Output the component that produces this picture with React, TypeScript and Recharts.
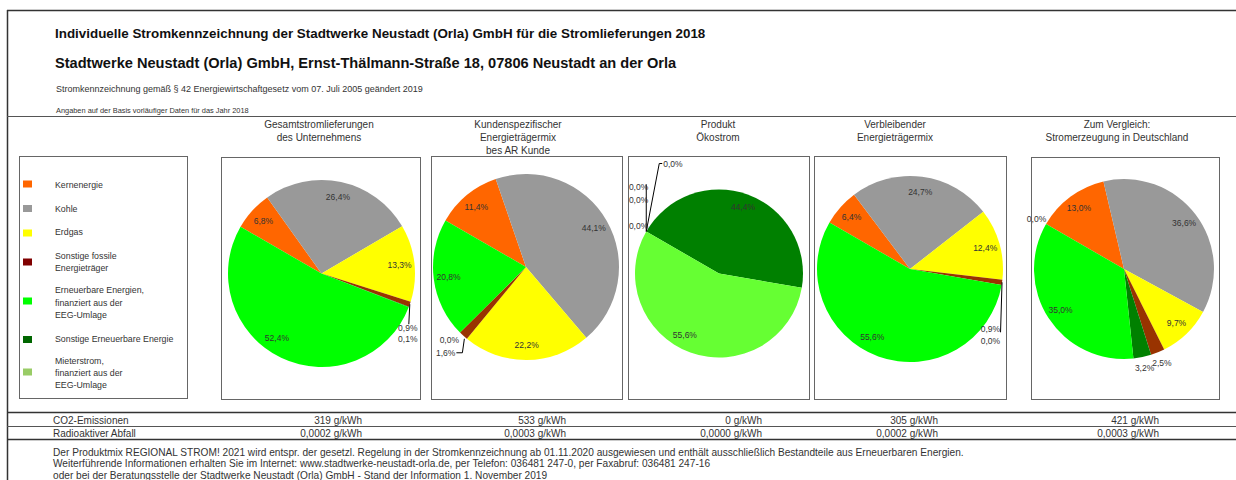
import React from 'react';
import { PieChart, Pie, Cell } from 'recharts';

// ---------- DATA ----------
const categories = [
  'Kernenergie',
  'Kohle',
  'Erdgas',
  'Sonstige fossile Energieträger',
  'Sonstige Erneuerbare Energie',
  'Erneuerbare Energien, finanziert aus der EEG-Umlage',
  'Mieterstrom, finanziert aus der EEG-Umlage',
];

const gesamtWerte: (number | null)[] = [6.8, 26.4, 13.3, 0.9, 0.1, 52.4, null];
const kundenWerte: (number | null)[] = [11.4, 44.1, 22.2, 1.6, 0.0, 20.8, null];
const oekoWerte: (number | null)[] = [0.0, 0.0, 0.0, 0.0, 44.4, 55.6, null];
const verbleibendWerte: (number | null)[] = [6.4, 24.7, 12.4, 0.9, 0.0, 55.6, null];
const deutschlandWerte: (number | null)[] = [13.0, 36.6, 9.7, 2.5, 3.2, 35.0, 0.0];

const pieTitles = [
  ['Gesamtstromlieferungen', 'des Unternehmens'],
  ['Kundenspezifischer', 'Energieträgermix', 'bes AR Kunde'],
  ['Produkt', 'Ökostrom'],
  ['Verbleibender', 'Energieträgermix'],
  ['Zum Vergleich:', 'Stromerzeugung in Deutschland'],
];

const legendOrder = [0, 1, 2, 3, 5, 4, 6];
const legendTexts = [
  ['Kernenergie'],
  ['Kohle'],
  ['Erdgas'],
  ['Sonstige fossile', 'Energieträger'],
  ['Erneuerbare Energien,', 'finanziert aus der', 'EEG-Umlage'],
  ['Sonstige Erneuerbare Energie'],
  ['Mieterstrom,', 'finanziert aus der', 'EEG-Umlage'],
];

const co2Werte = ['319 g/kWh', '533 g/kWh', '0 g/kWh', '305 g/kWh', '421 g/kWh'];
const abfallWerte = ['0,0002 g/kWh', '0,0003 g/kWh', '0,0000 g/kWh', '0,0002 g/kWh', '0,0003 g/kWh'];

const titel1 = 'Individuelle Stromkennzeichnung der Stadtwerke Neustadt (Orla) GmbH für die Stromlieferungen 2018';
const titel2 = 'Stadtwerke Neustadt (Orla) GmbH, Ernst-Thälmann-Straße 18, 07806 Neustadt an der Orla';
const titel3 = 'Stromkennzeichnung gemäß § 42 Energiewirtschaftgesetz vom 07. Juli 2005 geändert 2019';
const titel4 = 'Angaben auf der Basis vorläufiger Daten für das Jahr 2018';
const fussText = [
  'Der Produktmix REGIONAL STROM! 2021 wird entspr. der gesetzl. Regelung in der Stromkennzeichnung ab 01.11.2020 ausgewiesen und enthält ausschließlich Bestandteile aus Erneuerbaren Energien.',
  'Weiterführende Informationen erhalten Sie im Internet: www.stadtwerke-neustadt-orla.de, per Telefon: 036481 247-0, per Faxabruf: 036481 247-16',
  'oder bei der Beratungsstelle der Stadtwerke Neustadt (Orla) GmbH - Stand der Information 1. November 2019',
];

// ---------- STYLE / LAYOUT ----------
const colors = ['#FF6600', '#999999', '#FFFF00', '#993300', '#008000', '#00FF00', '#99CC66'];
const legendColors = ['#FF6600', '#999999', '#FFFF00', '#800000', '#006600', '#00FF00', '#99CC66'];
const FONT = '"Liberation Sans", Arial, sans-serif';
const TXT = '#333333';

type Callout = { lines: number[][][]; labels: [number, number, string][] };
type Layout = {
  cx: number; cy: number; r: number; box: number[]; titleX: number;
  small: 'callout' | 'outside'; callout?: Callout; override?: Record<number, string>;
};

const pieLayouts: Layout[] = [
  {
    cx: 321.5, cy: 273.5, r: 93.5, box: [221, 157, 420, 399], titleX: 319, small: 'callout',
    callout: { lines: [[[0, 0], [-1, 20]]], labels: [[-2, 24, 'middle'], [-1, 32, 'middle']] },
  },
  {
    cx: 526, cy: 267, r: 93, box: [431, 156, 622, 399], titleX: 518, small: 'callout',
    callout: { lines: [[[1, 3], [-1, 17], [-7, 17]]], labels: [[-8, 17, 'end'], [-1, 7, 'end']] },
  },
  {
    cx: 719, cy: 273.5, r: 84, box: [628, 156, 809, 399], titleX: 718, small: 'callout',
    override: { 5: '#66FF33' },
    callout: {
      lines: [[[0, 0], [13, -68], [16, -68]], [[0, 0], [0, -47]]],
      labels: [[17, -68, 'start'], [2, -44.5, 'end'], [2, -31.5, 'end'], [2, -6, 'end']],
    },
  },
  {
    cx: 910, cy: 269, r: 93, box: [814, 156, 1006, 399], titleX: 895, small: 'callout',
    callout: { lines: [[[0, 0], [-1.5, 50]]], labels: [[-2, 47, 'end'], [-1.6, 56, 'end']] },
  },
  { cx: 1124, cy: 269, r: 90, box: [1031, 157, 1219, 399], titleX: 1117, small: 'outside' },
];

const pieValues = [gesamtWerte, kundenWerte, oekoWerte, verbleibendWerte, deutschlandWerte];

const legendRows = [
  { sq: 184, ys: [185] },
  { sq: 208.5, ys: [209] },
  { sq: 233, ys: [232] },
  { sq: 262, ys: [256, 268] },
  { sq: 301, ys: [290, 302.5, 314.5] },
  { sq: 339.5, ys: [339] },
  { sq: 372, ys: [361, 373, 385] },
];

const valueRight = [362, 566, 762, 938, 1159];

const RAD = Math.PI / 180;
const fmt = (v: number) => v.toFixed(1).replace('.', ',') + '%';

function buildData(vals: (number | null)[], lay: Layout) {
  let k = 0;
  const out: any[] = [];
  vals.forEach((v, i) => {
    if (v === null) return;
    const small = v < 5;
    out.push({
      name: categories[i],
      value: v,
      cat: i,
      color: (lay.override && lay.override[i]) || colors[i],
      mode: small ? lay.small : 'inside',
      k: small ? k++ : -1,
    });
  });
  return out;
}

function makeLabel(lay: Layout) {
  return (props: any) => {
    const p = props.payload && props.payload.mode ? props.payload : props;
    const { cx, cy, midAngle, outerRadius, value, percent } = props;
    const common = { fontSize: 8.5, fill: TXT, fontFamily: FONT } as any;
    const txt = fmt(value);
    if (p.mode === 'inside') {
      const ang = (percent > 0.5 ? midAngle - 9 : midAngle) * RAD;
      const rr = outerRadius * 0.84;
      return (
        <text x={cx + rr * Math.cos(-ang)} y={cy + rr * Math.sin(-ang)} textAnchor="middle" dominantBaseline="central" {...common}>
          {txt}
        </text>
      );
    }
    const cos = Math.cos(-midAngle * RAD);
    const sin = Math.sin(-midAngle * RAD);
    if (p.mode === 'outside') {
      const rr = outerRadius + 11;
      return (
        <text x={cx + rr * cos} y={cy + rr * sin} textAnchor="middle" dominantBaseline="central" {...common}>
          {txt}
        </text>
      );
    }
    const ox = cx + outerRadius * cos;
    const oy = cy + outerRadius * sin;
    const c = lay.callout!;
    const lab = c.labels[p.k] || [0, 0, 'middle'];
    return (
      <g>
        {p.k === 0 &&
          c.lines.map((pts, j) => (
            <polyline
              key={j}
              points={pts.map((q) => `${ox + q[0]},${oy + q[1]}`).join(' ')}
              fill="none"
              stroke="#000"
              strokeWidth={1}
            />
          ))}
        <text x={ox + lab[0]} y={oy + lab[1]} textAnchor={lab[2] as any} dominantBaseline="central" {...common}>
          {txt}
        </text>
      </g>
    );
  };
}

export default function App() {
  const W = 1236;
  const H = 480;
  return (
    <div style={{ position: 'absolute', left: 0, top: 0, width: W, height: H, overflow: 'hidden', background: '#fff' }}>
      <svg width={W} height={H} style={{ position: 'absolute', left: 0, top: 0 }} fontFamily={FONT}>
        {/* frame */}
        <line x1={7.5} y1={10} x2={7.5} y2={H} stroke="#333" strokeWidth={1.5} />
        <line x1={7} y1={10.5} x2={W} y2={10.5} stroke="#333" strokeWidth={1.5} />
        <line x1={7} y1={116.5} x2={W} y2={116.5} stroke="#555" strokeWidth={1} />
        {/* header */}
        <text x={55} y={33} fontSize={13.4} fontWeight="bold" dominantBaseline="central" fill="#111">{titel1}</text>
        <text x={55} y={63} fontSize={14.6} fontWeight="bold" dominantBaseline="central" fill="#111">{titel2}</text>
        <text x={56} y={89} fontSize={9} dominantBaseline="central" fill={TXT}>{titel3}</text>
        <text x={56} y={110.5} fontSize={7.4} dominantBaseline="central" fill={TXT}>{titel4}</text>
        {/* legend */}
        <rect x={19.5} y={156.5} width={168} height={242} fill="none" stroke="#666" />
        {legendOrder.map((ci, row) => (
          <g key={ci}>
            <rect x={23} y={legendRows[row].sq - 3.5} width={9} height={7} fill={legendColors[ci]} />
            {legendTexts[row].map((t, j) => (
              <text key={j} x={55} y={legendRows[row].ys[j]} fontSize={8.8} dominantBaseline="central" fill={TXT}>{t}</text>
            ))}
          </g>
        ))}
        {/* pie titles and boxes */}
        {pieLayouts.map((l, i) => (
          <g key={i}>
            <rect x={l.box[0] + 0.5} y={l.box[1] + 0.5} width={l.box[2] - l.box[0]} height={l.box[3] - l.box[1]} fill="none" stroke="#666" />
            {pieTitles[i].map((t, j) => (
              <text key={j} x={l.titleX} y={124 + j * 13} fontSize={10} textAnchor="middle" dominantBaseline="central" fill={TXT}>{t}</text>
            ))}
          </g>
        ))}
        {/* table */}
        <line x1={7} y1={412.5} x2={W} y2={412.5} stroke="#333" strokeWidth={1.3} />
        <line x1={7} y1={426.5} x2={W} y2={426.5} stroke="#555" strokeWidth={1} />
        <line x1={7} y1={439.5} x2={W} y2={439.5} stroke="#333" strokeWidth={1.3} />
        <text x={53} y={420} fontSize={10} dominantBaseline="central" fill={TXT}>CO2-Emissionen</text>
        <text x={53} y={433} fontSize={10} dominantBaseline="central" fill={TXT}>Radioaktiver Abfall</text>
        {co2Werte.map((v, i) => (
          <text key={'c' + i} x={valueRight[i]} y={420} fontSize={10} textAnchor="end" dominantBaseline="central" fill={TXT}>{v}</text>
        ))}
        {abfallWerte.map((v, i) => (
          <text key={'a' + i} x={valueRight[i]} y={433} fontSize={10} textAnchor="end" dominantBaseline="central" fill={TXT}>{v}</text>
        ))}
        {fussText.map((t, i) => (
          <text key={'f' + i} x={53} y={452 + i * 11.6} fontSize={10.15} dominantBaseline="central" fill={TXT}>{t}</text>
        ))}
      </svg>
      <div style={{ position: 'absolute', left: 0, top: 0 }}>
        <PieChart width={W} height={H} margin={{ top: 0, right: 0, bottom: 0, left: 0 }}>
          {pieLayouts.map((l, i) => {
            const data = buildData(pieValues[i], l);
            return (
              <Pie
                key={i}
                data={data}
                dataKey="value"
                nameKey="name"
                cx={l.cx}
                cy={l.cy}
                outerRadius={l.r}
                innerRadius={0}
                startAngle={150}
                endAngle={-210}
                stroke="none"
                isAnimationActive={false}
                labelLine={false}
                label={makeLabel(l)}
              >
                {data.map((d, j) => (
                  <Cell key={j} fill={d.color} stroke="none" />
                ))}
              </Pie>
            );
          })}
        </PieChart>
      </div>
    </div>
  );
}
